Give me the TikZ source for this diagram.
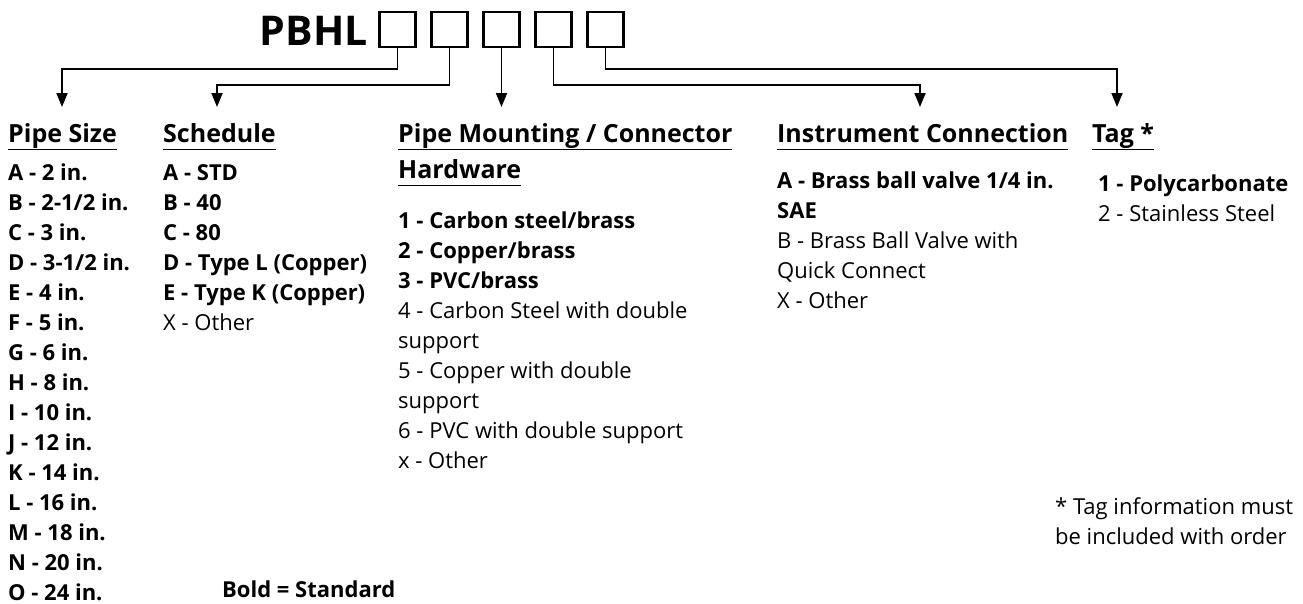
\documentclass[tikz,border=0pt]{standalone}
\usepackage{fontspec}
\setmainfont{Open Sans}
\usetikzlibrary{arrows.meta}
\newcommand\hdul[1]{\underline{#1\vphantom{gp}}}

\begin{document}
\begin{tikzpicture}[x=1pt, y=-1pt,
    slot/.style={draw, line width=2.6pt, minimum width=36pt, minimum height=35pt, inner sep=0pt},
    link/.style={line width=1.8pt, -{Triangle[length=14pt,width=11pt]}},
    code/.style={font=\bfseries\fontsize{41}{50}\selectfont, anchor=base east, inner sep=0pt},
    head/.style={font=\bfseries\fontsize{25}{36}\selectfont, anchor=base west, inner sep=0pt, align=left},
    entry/.style={font=\fontsize{22}{30}\selectfont, anchor=base west, inner sep=0pt, align=left}
]
    \useasboundingbox (0,0) rectangle (1303,603);
    % part number
    \node[code] (pbhl) at (368,45) {PBHL};
    \node[slot] (b1) at (397.5,29.5) {};
    \node[slot] (b2) at (449.5,29.5) {};
    \node[slot] (b3) at (501.5,29.5) {};
    \node[slot] (b4) at (553.5,29.5) {};
    \node[slot] (b5) at (605.5,29.5) {};
    \coordinate (t1) at (62,107);
    \coordinate (t2) at (217,107);
    \coordinate (t3) at (501.5,107);
    \coordinate (t4) at (920,107);
    \coordinate (t5) at (1117,107);
    \draw[link] (b1.south) -- ++(0,21) -| (t1);
    \draw[link] (b2.south) -- ++(0,37) -| (t2);
    \draw[link] (b3.south) -- (t3);
    \draw[link] (b4.south) -- ++(0,37) -| (t4);
    \draw[link] (b5.south) -- ++(0,21) -| (t5);
    % headings (anchored at the baseline of their last line)
    \node[head] (size) at (8,142) {\hdul{Pipe Size}};
    \node[head] (sched) at (163,142) {\hdul{Schedule}};
    \node[head] (mount) at (398,178) {\hdul{Pipe Mounting / Connector}\\\hdul{Hardware}};
    \node[head] (instr) at (777,142) {\hdul{Instrument Connection}};
    \node[head] (tag) at (1092,142) {\hdul{Tag *}};
    % options
    \node[entry, font=\bfseries\fontsize{22}{30}\selectfont] (sizelist) at (8,600)
        {A - 2 in.\\B - 2-1/2 in.\\C - 3 in.\\D - 3-1/2 in.\\E - 4 in.\\F - 5 in.\\G - 6 in.\\H - 8 in.\\I - 10 in.\\J - 12 in.\\K - 14 in.\\L - 16 in.\\M - 18 in.\\N - 20 in.\\O - 24 in.};
    \node[entry] (schedlist) at (163,330)
        {\textbf{A - STD}\\\textbf{B - 40}\\\textbf{C - 80}\\\textbf{D - Type L (Copper)}\\\textbf{E - Type K (Copper)}\\X - Other};
    \node[entry] (mountlist) at (398,468)
        {\textbf{1 - Carbon steel/brass}\\\textbf{2 - Copper/brass}\\\textbf{3 - PVC/brass}\\4 - Carbon Steel with double\\support\\5 - Copper with double\\support\\6 - PVC with double support\\x - Other};
    \node[entry] (instrlist) at (777,308)
        {\textbf{A - Brass ball valve 1/4 in.}\\\textbf{SAE}\\B - Brass Ball Valve with\\Quick Connect\\X - Other};
    \node[entry] (taglist) at (1098,221)
        {\textbf{1 - Polycarbonate}\\2 - Stainless Steel};
    % notes
    \node[entry] (tagnote) at (1055,544) {* Tag information must\\be included with order};
    \node[entry] (boldnote) at (222,597) {\textbf{Bold = Standard}};
\end{tikzpicture}
\end{document}
